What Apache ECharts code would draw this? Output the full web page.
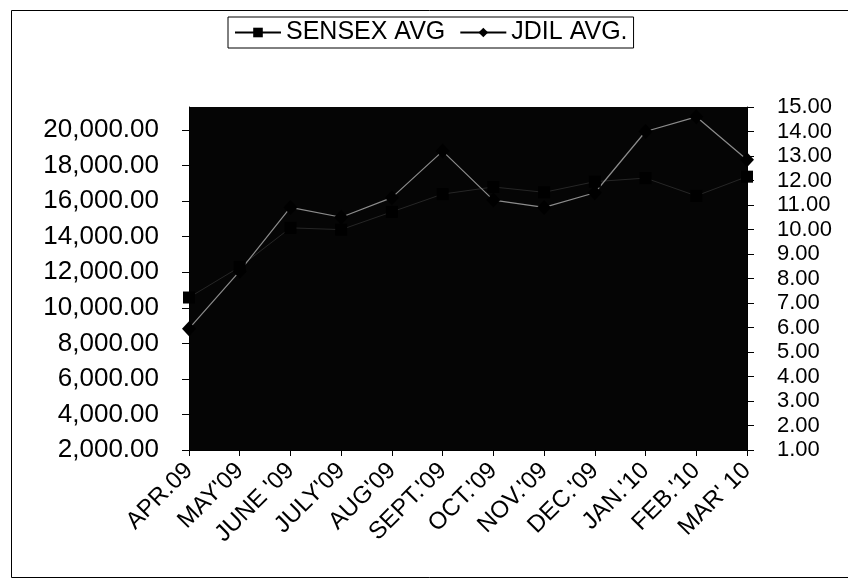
<!DOCTYPE html>
<html>
<head>
<meta charset="utf-8">
<script src="https://cdn.jsdelivr.net/npm/echarts@6/dist/echarts.min.js"></script>
<style>
html,body{margin:0;padding:0;background:#fff;}
#c{width:848px;height:579px;}
</style>
</head>
<body>
<div id="c"></div>
<script>
const categories = ["APR.09","MAY'09","JUNE '09","JULY'09","AUG'09","SEPT.'09","OCT.'09","NOV.'09","DEC.'09","JAN.'10","FEB.'10","MAR' 10"];
const sensexAvg = [10580, 12300, 14500, 14400, 15400, 16400, 16800, 16500, 17100, 17300, 16300, 17380];
const jdilAvg = [5.95, 8.3, 10.9, 10.5, 11.3, 13.2, 11.2, 10.9, 11.5, 14.0, 14.6, 12.85];
const leftTicks = [2000,4000,6000,8000,10000,12000,14000,16000,18000,20000];
const rightTicks = [1,2,3,4,5,6,7,8,9,10,11,12,13,14,15];

const chart = echarts.init(document.getElementById('c'), null, {renderer:'canvas'});
const fmtLeft = v => v.toLocaleString('en-US',{minimumFractionDigits:2,maximumFractionDigits:2});
const fmtRight = v => v.toFixed(2);
const font = 'Arial, "Liberation Sans", sans-serif';

chart.setOption({
  animation:false,
  backgroundColor:'#fff',
  graphic:[
    {type:'line',shape:{x1:11.5,y1:10.5,x2:848,y2:10.5},style:{stroke:'#000',lineWidth:1},silent:true},
    {type:'line',shape:{x1:11.5,y1:10.5,x2:11.5,y2:577.5},style:{stroke:'#000',lineWidth:1},silent:true},
    {type:'line',shape:{x1:11.5,y1:577.5,x2:848,y2:577.5},style:{stroke:'#000',lineWidth:1},silent:true}
  ],
  legend:{
    left:228, top:17,
    padding:[3,6,3,6],
    borderColor:'#000', borderWidth:1, backgroundColor:'#fff',
    itemWidth:46, itemHeight:12, itemGap:14,
    textStyle:{fontFamily:font,fontSize:25,color:'#000'},
    lineStyle:{color:'#000',width:2},
    itemStyle:{color:'#000'},
    data:['SENSEX AVG','JDIL AVG.']
  },
  grid:{left:189,right:101,top:107,bottom:129,show:true,backgroundColor:'#050505',borderWidth:0},
  xAxis:{
    type:'category', data:categories, boundaryGap:false,
    axisLine:{lineStyle:{color:'#000',width:1}},
    axisTick:{show:true,alignWithLabel:true,length:6,lineStyle:{color:'#000'}},
    axisLabel:{rotate:45,interval:0,margin:17,fontFamily:font,fontSize:24,color:'#000'},
    splitLine:{show:false}
  },
  yAxis:[{
    type:'value', min:2000, max:21300, position:'left',
    axisLine:{show:true,lineStyle:{color:'#000'}},
    axisTick:{show:true,length:7,lineStyle:{color:'#000'},customValues:leftTicks},
    axisLabel:{customValues:leftTicks,formatter:fmtLeft,margin:30,fontFamily:font,fontSize:26,color:'#000'},
    splitLine:{show:false}
  },{
    type:'value', min:1, max:15, interval:1, position:'right',
    axisLine:{show:true,lineStyle:{color:'#000'}},
    axisTick:{show:true,length:7,lineStyle:{color:'#000'},customValues:rightTicks},
    axisLabel:{customValues:rightTicks,formatter:fmtRight,margin:30,fontFamily:font,fontSize:22,color:'#000',lineHeight:22},
    splitLine:{show:false}
  }],
  series:[{
    name:'SENSEX AVG', type:'line', yAxisIndex:0, data:sensexAvg,
    symbol:'rect', symbolSize:12, clip:false,
    lineStyle:{color:'#262626',width:1},
    itemStyle:{color:'#000'}
  },{
    name:'JDIL AVG.', type:'line', yAxisIndex:1, data:jdilAvg,
    symbol:'diamond', symbolSize:[14,15], clip:false,
    lineStyle:{color:'#8c8c8c',width:1.2},
    itemStyle:{color:'#000'}
  }]
});
</script>
</body>
</html>
